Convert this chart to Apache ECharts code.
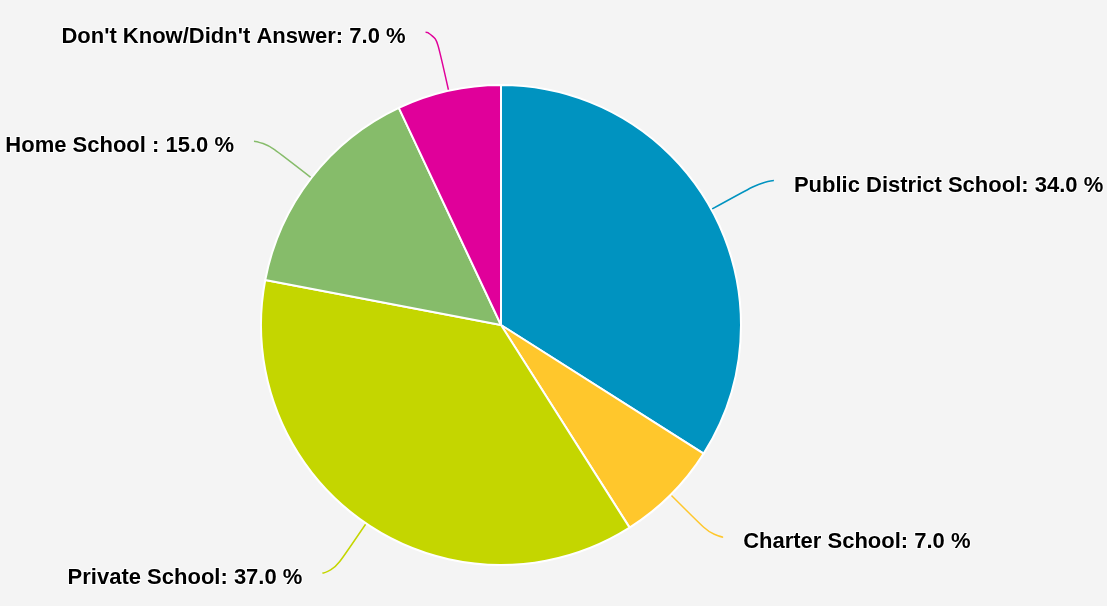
<!DOCTYPE html>
<html>
<head>
<meta charset="utf-8">
<style>
    html, body { margin: 0; padding: 0; background: #f4f4f4; }
    #main { width: 1107px; height: 606px; }
</style>
<script src="https://cdn.jsdelivr.net/npm/echarts@6/dist/echarts.min.js"></script>
</head>
<body>
<div id="main"></div>
<script>
// 数据部分
var categories = ['Public District School', 'Charter School', 'Private School', 'Home School ', "Don't Know/Didn't Answer"];
var shares = [34.0, 7.0, 37.0, 15.0, 7.0];
var colors = ['#0093c0', '#ffc72c', '#c4d600', '#86bc6a', '#e0009a'];

(function () {
    var myChart = echarts.init(document.getElementById('main'));

    var pieData = [];
    for (var i = 0; i < categories.length; i++) {
        pieData.push({ name: categories[i], value: shares[i] });
    }

    var txtStyle = {
        fontFamily: 'Liberation Sans, Arial, sans-serif',
        fontWeight: 'bold',
        fontSize: 22,
        color: '#000000',
        textBorderColor: '#ffffff',
        textBorderWidth: 2,
        padding: [10, 0, 0, 0]
    };

    var option = {
        backgroundColor: '#f4f4f4',
        color: colors,
        animation: false,
        series: [
            {
                type: 'pie',
                radius: 240,
                center: [501, 325],
                startAngle: 90,
                clockwise: true,
                itemStyle: {
                    borderColor: '#ffffff',
                    borderWidth: 2
                },
                label: {
                    show: true,
                    position: 'outside',
                    overflow: 'none',
                    fontFamily: 'Liberation Sans, Arial, sans-serif',
                    fontWeight: 'bold',
                    fontSize: 22,
                    distanceToLabelLine: 20,
                    formatter: function (p) {
                        return '{t|' + p.name + ': ' + p.value.toFixed(1) + ' %}';
                    },
                    rich: { t: txtStyle }
                },
                labelLine: {
                    show: true,
                    length: 60,
                    length2: 10,
                    smooth: 0.8,
                    lineStyle: { width: 1.5 }
                },
                emphasis: { disabled: true },
                data: pieData
            }
        ]
    };

    myChart.setOption(option);

    window.addEventListener('resize', function () {
        myChart.resize();
    });
})();
</script>
</body>
</html>
